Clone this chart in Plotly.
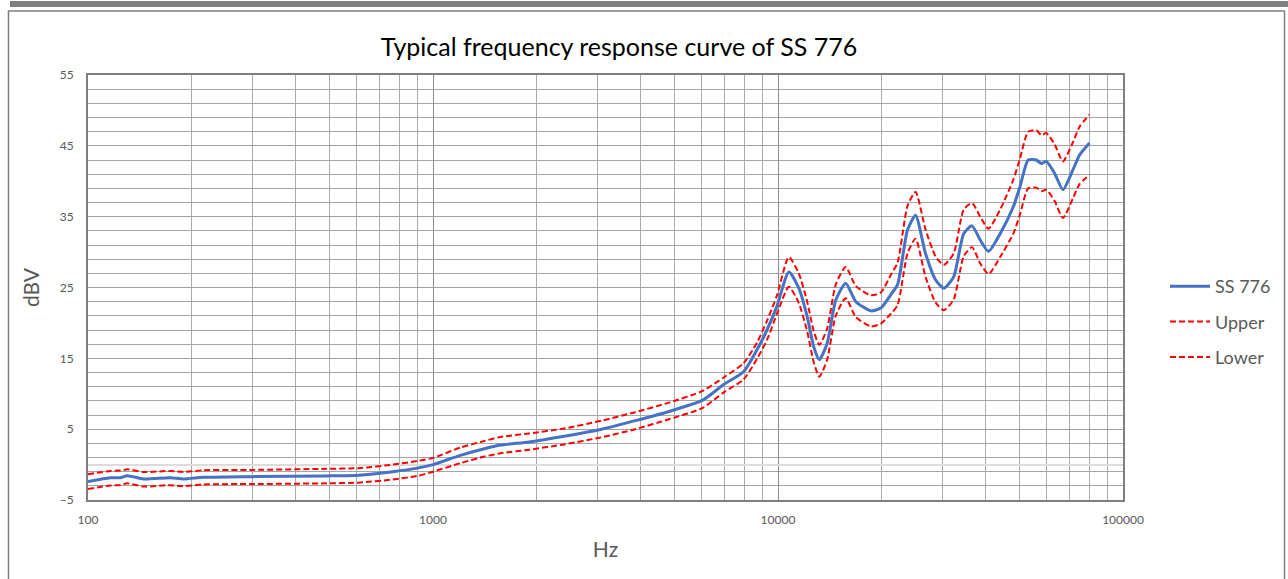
import plotly.graph_objects as go

# Frequency (Hz)
freq = [100, 116, 124, 130, 145, 173, 189, 216, 300, 490, 610, 765, 900, 1000,
        1200, 1400, 1570, 1900, 2400, 3080, 3860, 4830, 6050, 6960, 7940, 8690,
        9290, 9920, 10750, 11490, 12150, 12700, 13180, 13880, 14700, 15710, 16820,
        18600, 19870, 21240, 22210, 23730, 25040, 26770, 28610, 30230, 32300,
        34530, 36510, 38560, 40760, 44040, 48090, 50270, 53100, 56100, 58000,
        59960, 63370, 66990, 71590, 74830, 79950]

# SS 776 typical response (dBV)
ss776 = [-2.4, -1.85, -1.85, -1.57, -2.03, -1.85, -2.03, -1.8, -1.7, -1.6, -1.5, -1.0, -0.5, 0.0,
         1.3, 2.2, 2.75, 3.2, 4.0, 5.0, 6.2, 7.5, 9.1, 11.3, 13.1, 16.2,
         19.0, 22.3, 27.2, 24.9, 20.9, 16.6, 14.8, 17.1, 23.2, 25.6, 23.0,
         21.7, 22.1, 24.0, 25.4, 33.1, 35.2, 29.8, 26.1, 24.9, 26.5,
         32.6, 33.7, 31.7, 30.1, 32.6, 36.4, 39.2, 43.0, 43.0, 42.5,
         42.8, 41.1, 38.8, 41.6, 43.7, 45.4]

# Upper limit (dBV)
upper = [-1.35, -0.9, -0.85, -0.67, -1.05, -0.9, -1.05, -0.8, -0.75, -0.6, -0.5, 0.0, 0.5, 0.95,
         2.4, 3.3, 3.9, 4.4, 5.1, 6.2, 7.4, 8.75, 10.4, 12.3, 14.3, 17.2,
         20.3, 23.8, 29.3, 27.0, 23.0, 18.8, 16.9, 19.2, 25.4, 27.9, 25.2,
         23.9, 24.3, 26.8, 28.5, 36.5, 38.5, 33.2, 29.4, 28.2, 29.8,
         36.0, 36.9, 35.0, 33.3, 36.0, 40.2, 43.2, 47.0, 47.2, 46.5,
         46.8, 45.2, 42.8, 45.5, 47.7, 49.4]

# Lower limit (dBV)
lower = [-3.45, -2.95, -2.9, -2.64, -3.1, -2.9, -3.05, -2.8, -2.75, -2.65, -2.55, -2.1, -1.6, -1.0,
         0.2, 1.1, 1.6, 2.1, 2.85, 3.85, 5.0, 6.4, 8.0, 10.2, 12.0, 14.9,
         17.6, 21.2, 25.1, 22.8, 18.8, 14.4, 12.4, 14.8, 21.0, 23.5, 20.8,
         19.5, 19.9, 21.3, 22.5, 29.8, 31.9, 26.5, 22.9, 21.8, 23.3,
         29.4, 30.7, 28.4, 26.9, 29.3, 32.6, 35.3, 39.0, 39.1, 38.6,
         38.8, 37.2, 34.8, 37.6, 39.6, 40.9]

x_ticks = [100, 1000, 10000, 100000]
x_minor = [m * d for d in (100, 1000, 10000) for m in range(2, 10)]
y_ticks = [-5, 5, 15, 25, 35, 45, 55]

FONT = "Lato, 'Open Sans', 'Liberation Sans', sans-serif"
GRAY_TXT = "#595959"

fig = go.Figure()
fig.add_trace(go.Scatter(x=freq, y=ss776, name="SS 776", mode="lines", legendgroup="a",
                         line=dict(color="#4472C4", width=3, shape="spline", smoothing=0.6)))
fig.add_trace(go.Scatter(x=freq, y=upper, name="Upper", mode="lines", legendgroup="b",
                         line=dict(color="#FF0000", width=2, dash="6px,3px", shape="spline", smoothing=0.6)))
fig.add_trace(go.Scatter(x=freq, y=lower, name="Lower", mode="lines", legendgroup="c",
                         line=dict(color="#FF0000", width=2, dash="6px,3px", shape="spline", smoothing=0.6)))

L, R, T, B = 88, 165, 75, 79
W, H = 1288, 579
def px(X):
    return (X - L) / (W - L - R)
def py(Y):
    return 1 - (Y - T) / (H - T - B)

fig.update_layout(
    width=W, height=H,
    margin=dict(l=L, r=R, t=T, b=B, pad=0),
    paper_bgcolor="white", plot_bgcolor="white",
    font=dict(family=FONT, color=GRAY_TXT),
    title=dict(text="Typical frequency response curve of SS 776",
               x=619 / W, xanchor="center", y=1 - 47 / H, yanchor="middle",
               xref="container", yref="container",
               font=dict(size=25, color="#000000", family=FONT)),
    showlegend=True,
    legend=dict(x=px(1165), y=py(268), xanchor="left", yanchor="top",
                font=dict(size=18, color=GRAY_TXT, family=FONT),
                bgcolor="rgba(0,0,0,0)", tracegroupgap=9, itemwidth=40),
    xaxis=dict(type="log", range=[2, 5], tickmode="array", tickvals=x_ticks,
               ticktext=[str(v) for v in x_ticks],
               showgrid=True, gridcolor="#8c8c8c", gridwidth=1,
               minor=dict(tickmode="array", tickvals=x_minor, showgrid=True,
                          gridcolor="#ababab", gridwidth=1, ticklen=0),
               showline=True, linecolor="#7f7f7f", linewidth=2, mirror=True,
               ticks="", tickfont=dict(size=12, color=GRAY_TXT), ticklabelstandoff=8,
               zeroline=False,
               title=dict(text="Hz", font=dict(size=21, color=GRAY_TXT), standoff=16)),
    yaxis=dict(range=[-5, 55], tickmode="array", tickvals=y_ticks,
               showgrid=True, gridcolor="#a0a0a0", gridwidth=1,
               minor=dict(dtick=2, tick0=-5, showgrid=True, gridcolor="#a6a6a6",
                          gridwidth=1, ticklen=0),
               showline=True, linecolor="#7f7f7f", linewidth=2, mirror=True,
               ticks="", tickfont=dict(size=12, color=GRAY_TXT), ticklabelstandoff=10,
               zeroline=True, zerolinecolor="#dcdcdc", zerolinewidth=2,
               title=dict(text="dBV", font=dict(size=21, color=GRAY_TXT), standoff=14)),
    shapes=[
        dict(type="rect", xref="paper", yref="paper",
             x0=px(10), x1=px(1290), y0=py(1), y1=py(7),
             fillcolor="#808080", line=dict(width=0), layer="above"),
        dict(type="rect", xref="paper", yref="paper",
             x0=px(8.5), x1=px(1284.5), y0=py(11), y1=py(590),
             fillcolor="rgba(0,0,0,0)", line=dict(color="#7f7f7f", width=1.5), layer="above"),
    ],
)

fig.write_html("out.html", config={"displayModeBar": False},
               post_script="document.body.style.margin='0';document.body.style.overflow='hidden';")
